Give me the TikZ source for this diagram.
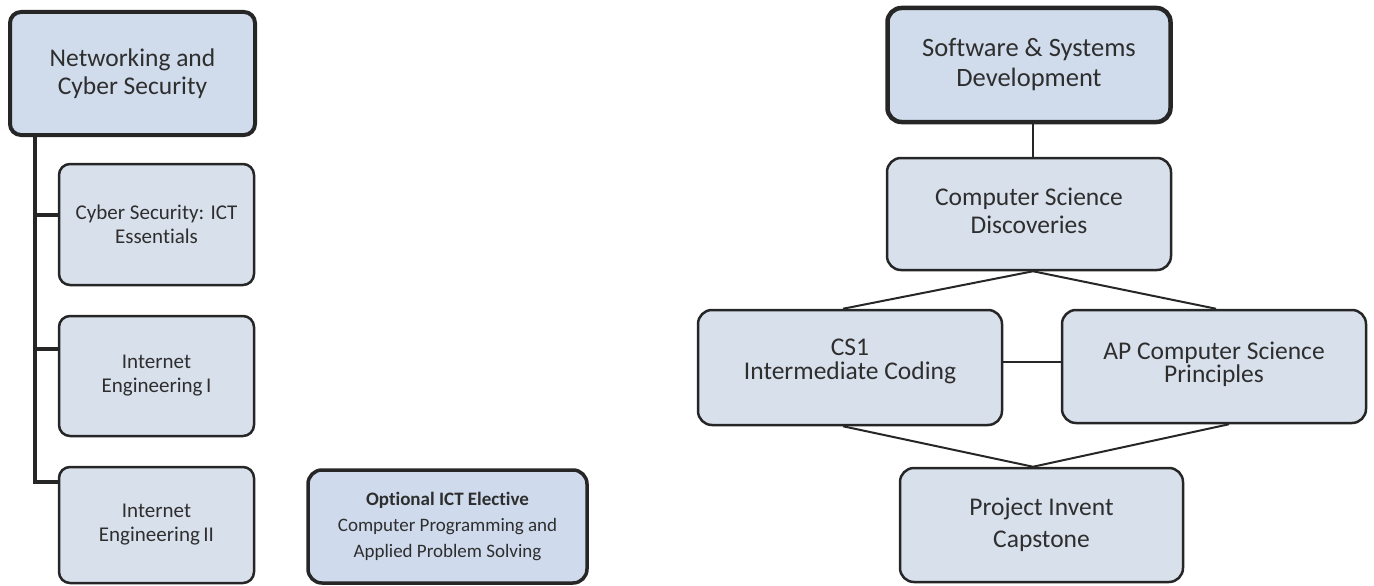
\documentclass[tikz,border=0pt]{standalone}
\usepackage{fontspec}
\setmainfont{Carlito}[Ligatures=NoCommon]
\usetikzlibrary{calc}
\definecolor{mainfill}{HTML}{D0DCEC}
\definecolor{subfill}{HTML}{D8E0EC}
\definecolor{optfill}{HTML}{CFDBED}
\definecolor{edge}{HTML}{262626}
\definecolor{txt}{HTML}{2E2E2E}
\tikzset{
  basebox/.style={draw=edge, rounded corners=11pt, align=center, text=txt, inner sep=2pt},
  mainbox/.style={basebox, fill=mainfill, line width=4pt, font=\fontsize{25.5}{28}\selectfont},
  subbox/.style={basebox, fill=subfill, line width=2.5pt, font=\fontsize{21}{24}\selectfont},
  optbox/.style={basebox, fill=optfill, line width=3.5pt, rounded corners=14pt, font=\fontsize{19}{26}\selectfont},
  rbox/.style={basebox, fill=subfill, line width=2.5pt, rounded corners=14pt},
  boxtext/.style={align=center, text=txt, inner sep=0pt},
  spine/.style={draw=edge, line width=3.5pt},
  link/.style={draw=edge, line width=2pt}
}
\begin{document}
\begin{tikzpicture}[x=1pt,y=-1pt]
\useasboundingbox (0,0) rectangle (1374,586);
% left tree
\node[mainbox, minimum width=245pt, minimum height=123pt] (net) at (132.5,73.5) {Networking and\\Cyber Security};
\node[subbox, minimum width=195pt, minimum height=121pt] (cs) at (156.5,224.5) {Cyber Security: ICT\\Essentials};
\node[subbox, minimum width=195pt, minimum height=120pt] (ie1) at (156.5,376) {Internet\\Engineering\,I};
\node[subbox, minimum width=195pt, minimum height=116pt] (ie2) at (156.5,525) {Internet\\Engineering\,II};
\node[optbox, minimum width=279pt, minimum height=113pt] (opt) at (447.5,526.5) {\textbf{Optional ICT Elective}\\Computer Programming and\\Applied Problem Solving};
\coordinate (sp) at (35,0);
\coordinate (c1) at ($(cs.north west)+(0,52)$);
\coordinate (c2) at ($(ie1.north west)+(0,34)$);
\coordinate (c3) at ($(ie2.north west)+(0,16)$);
\draw[spine] (net.south -| sp) |- (c3);
\draw[spine] (sp |- c1) -- (c1);
\draw[spine] (sp |- c2) -- (c2);
% right tree
\node[mainbox, line width=4.5pt, rounded corners=14pt, minimum width=283pt, minimum height=114pt, font=\fontsize{26.5}{30}\selectfont] (ssd) at (1029,65) {Software \& Systems\\Development};
\node[rbox, minimum width=284pt, minimum height=112pt] (csd) at (1029,214) {};
\node[boxtext, font=\fontsize{25.5}{28}\selectfont] (csdt) at ($(csd.center)+(0,-3)$) {Computer Science\\Discoveries};
\node[rbox, minimum width=304pt, minimum height=115pt] (cs1) at (850,367.5) {};
\node[boxtext, font=\fontsize{25.5}{24}\selectfont] (cs1t) at ($(cs1.center)+(0,-6)$) {CS1\\Intermediate Coding};
\node[rbox, minimum width=304pt, minimum height=113pt] (ap) at (1214,366.5) {};
\node[boxtext, font=\fontsize{25.5}{23}\selectfont] (apt) at ($(ap.center)+(0,-2.5)$) {AP Computer Science\\Principles};
\node[rbox, minimum width=283pt, minimum height=114pt, font=\fontsize{25.5}{32}\selectfont] (pi) at (1041.5,525) {Project Invent\\Capstone};
\draw[link, line width=2.5pt] ($(ssd.south)+(4,0)$) -- ($(csd.north)+(4,0)$);
\draw[link] ($(csd.south)+(4,0)$) -- ($(cs1.north)+(-7,0)$);
\draw[link] ($(csd.south)+(4,0)$) -- ($(ap.north)+(2,0)$);
\draw[link] ($(cs1.east)+(0,-5.5)$) -- ($(ap.west)+(0,-4.5)$);
\draw[link] ($(cs1.south)+(-7,0)$) -- ($(pi.north)+(-8.5,0)$);
\draw[link] ($(ap.south)+(15,0)$) -- ($(pi.north)+(-8.5,0)$);
\end{tikzpicture}
\end{document}
